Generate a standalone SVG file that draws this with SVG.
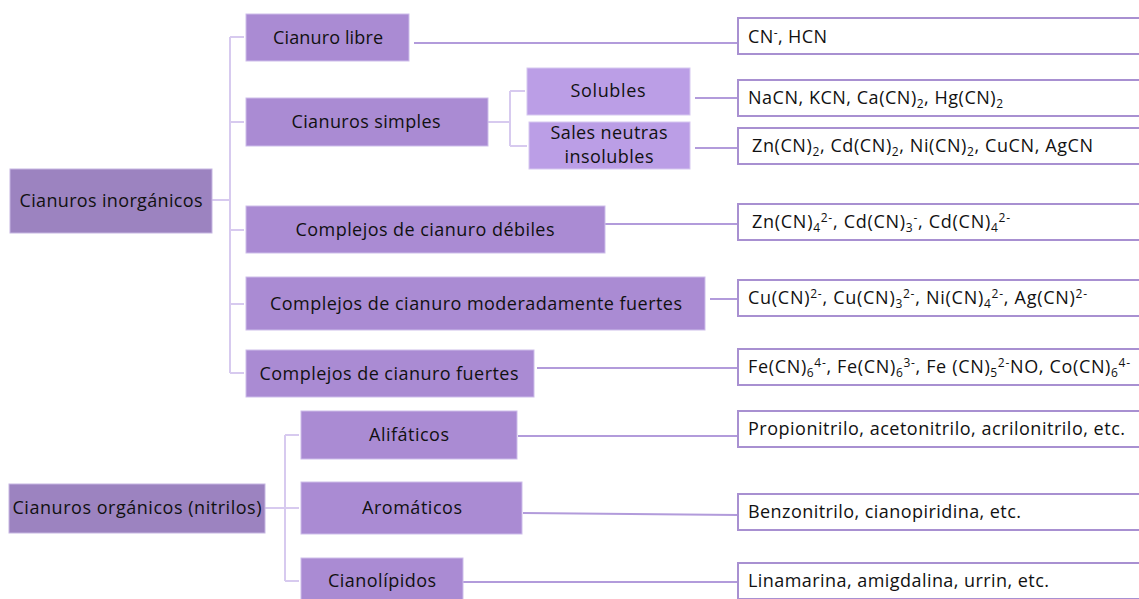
<svg xmlns="http://www.w3.org/2000/svg" width="1139" height="599" viewBox="0 0 1139 599">
<style>
text{font-family:"Open Sans","Noto Sans",sans-serif;font-size:18px;fill:#111}
.n1{fill:#aa8bd3;stroke:#cdbdea;stroke-width:1}
.n0{fill:#9c83c0;stroke:#c6b6e2;stroke-width:1}
.n2{fill:#bb9ee6;stroke:#d6c8f0;stroke-width:1}
.rb{fill:#fff;stroke:#a890d1;stroke-width:2}
.c{text-anchor:middle}
.tree{fill:none;stroke:#d7caef;stroke-width:2}
.lk{fill:none;stroke:#b29bdb;stroke-width:2}
.b{font-size:12px;baseline-shift:-4px}
.p{font-size:12px;baseline-shift:6px}
</style>
<g id="connectors">
<path class="tree" d="M212,200 H230 M230,37 V373 M230,37 H244 M230,122 H244 M230,230 H244 M230,304 H244 M230,373 H244"/>
<path class="tree" d="M488,122 H510 M510,91 V146 M510,91 H525 M510,146 H527"/>
<path class="tree" d="M265,508 H285 M285,435 V581 M285,435 H299 M285,508 H299 M285,581 H299"/>
<path class="lk" d="M414,43 H738 M695,98 H738 M695,148 H738 M604,224 H738 M710,299 H738 M537,368 H738 M518,436 H738 M523,513 L738,515 M463,582 H738"/>
</g>
<g id="n-inorg"><rect class="n0" x="10" y="169" width="202" height="64"/><text class="c" x="111" y="207" textLength="183">Cianuros inorgánicos</text></g>
<g id="n-libre"><rect class="n1" x="246" y="14" width="163" height="47"/><text class="c" x="328" y="44" textLength="110">Cianuro libre</text></g>
<g id="n-simples"><rect class="n1" x="246" y="98" width="242" height="48"/><text class="c" x="366" y="128" textLength="149">Cianuros simples</text></g>
<g id="n-solubles"><rect class="n2" x="527" y="68" width="163" height="47"/><text class="c" x="608" y="97" textLength="75">Solubles</text></g>
<g id="n-sales"><rect class="n2" x="529" y="122" width="161" height="47"/><text class="c" x="609" y="139" textLength="117">Sales neutras</text><text class="c" x="609" y="163" textLength="89">insolubles</text></g>
<g id="n-debiles"><rect class="n1" x="246" y="206" width="359" height="47"/><text class="c" x="425" y="236" textLength="259">Complejos de cianuro débiles</text></g>
<g id="n-moder"><rect class="n1" x="246" y="277" width="459" height="53"/><text class="c" x="476" y="310" textLength="412">Complejos de cianuro moderadamente fuertes</text></g>
<g id="n-fuertes"><rect class="n1" x="246" y="350" width="288" height="47"/><text class="c" x="389" y="380" textLength="259">Complejos de cianuro fuertes</text></g>
<g id="n-org"><rect class="n0" x="9" y="484" width="256" height="49"/><text class="c" x="137" y="514" textLength="249">Cianuros orgánicos (nitrilos)</text></g>
<g id="n-alif"><rect class="n1" x="301" y="411" width="216" height="48"/><text class="c" x="409" y="441" textLength="80">Alifáticos</text></g>
<g id="n-arom"><rect class="n1" x="301" y="482" width="221" height="52"/><text class="c" x="412" y="514" textLength="100">Aromáticos</text></g>
<g id="n-ciano"><rect class="n1" x="301" y="558" width="162" height="46"/><text class="c" x="382" y="587" textLength="108">Cianolípidos</text></g>
<g id="r-libre"><rect class="rb" x="738" y="18" width="410" height="36"/><text x="748" y="43" textLength="79">CN<tspan class="p">-</tspan>, HCN</text></g>
<g id="r-solubles"><rect class="rb" x="738" y="80" width="410" height="36"/><text x="748" y="104" textLength="255">NaCN, KCN, Ca(CN)<tspan class="b">2</tspan>, Hg(CN)<tspan class="b">2</tspan></text></g>
<g id="r-sales"><rect class="rb" x="738" y="128" width="410" height="36"/><text x="752" y="152" textLength="341">Zn(CN)<tspan class="b">2</tspan>, Cd(CN)<tspan class="b">2</tspan>, Ni(CN)<tspan class="b">2</tspan>, CuCN, AgCN</text></g>
<g id="r-debiles"><rect class="rb" x="738" y="204" width="410" height="36"/><text x="752" y="228" textLength="258">Zn(CN)<tspan class="b">4</tspan><tspan class="p">2-</tspan>, Cd(CN)<tspan class="b">3</tspan><tspan class="p">-</tspan>, Cd(CN)<tspan class="b">4</tspan><tspan class="p">2-</tspan></text></g>
<g id="r-moder"><rect class="rb" x="738" y="280" width="410" height="36"/><text x="748" y="304" textLength="339">Cu(CN)<tspan class="p">2-</tspan>, Cu(CN)<tspan class="b">3</tspan><tspan class="p">2-</tspan>, Ni(CN)<tspan class="b">4</tspan><tspan class="p">2-</tspan>, Ag(CN)<tspan class="p">2-</tspan></text></g>
<g id="r-fuertes"><rect class="rb" x="738" y="349" width="410" height="36"/><text x="748" y="373" textLength="382">Fe(CN)<tspan class="b">6</tspan><tspan class="p">4-</tspan>, Fe(CN)<tspan class="b">6</tspan><tspan class="p">3-</tspan>, Fe (CN)<tspan class="b">5</tspan><tspan class="p">2-</tspan>NO, Co(CN)<tspan class="b">6</tspan><tspan class="p">4-</tspan></text></g>
<g id="r-alif"><rect class="rb" x="738" y="411" width="410" height="36"/><text x="748" y="435" textLength="377">Propionitrilo, acetonitrilo, acrilonitrilo, etc.</text></g>
<g id="r-arom"><rect class="rb" x="738" y="494" width="410" height="36"/><text x="748" y="518" textLength="273">Benzonitrilo, cianopiridina, etc.</text></g>
<g id="r-ciano"><rect class="rb" x="738" y="563" width="410" height="36"/><text x="748" y="587" textLength="301">Linamarina, amigdalina, urrin, etc.</text></g>
</svg>
